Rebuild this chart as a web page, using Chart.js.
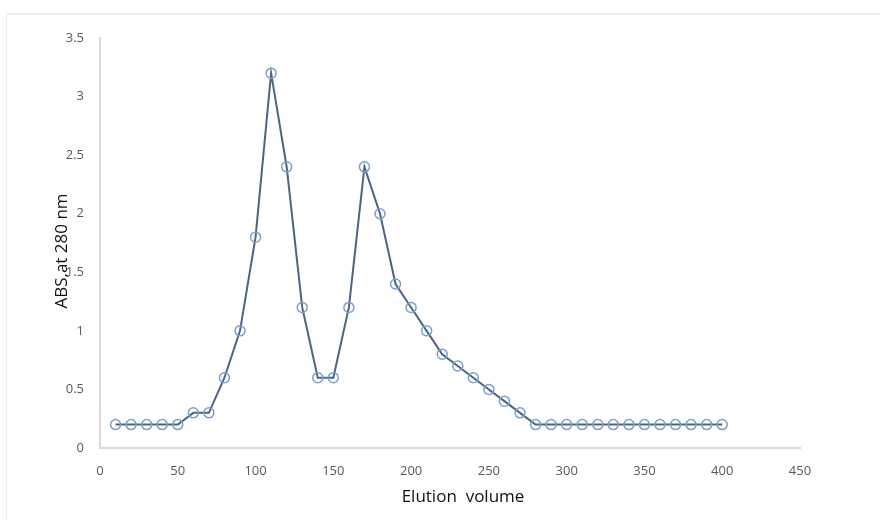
<!DOCTYPE html>
<html>
<head>
<meta charset="utf-8">
<script src="https://cdn.jsdelivr.net/npm/chart.js@4.4.0/dist/chart.umd.min.js"></script>
<style>
  html, body { margin: 0; padding: 0; background: #fff; }
  #wrap { position: relative; width: 880px; height: 520px; }
  #frame { position: absolute; left: 6px; top: 13px; width: 880px; height: 520px;
           border-left: 1px solid #ececec; border-top: 2px solid #ececec; }
  canvas { position: absolute; left: 0; top: 0; }
</style>
</head>
<body>
<div id="wrap">
  <div id="frame"></div>
  <canvas id="chart" width="880" height="520"></canvas>
</div>
<script>
// ------ Datos ------
const volumes = [10, 20, 30, 40, 50, 60, 70, 80, 90, 100,
                 110, 120, 130, 140, 150, 160, 170, 180, 190, 200,
                 210, 220, 230, 240, 250, 260, 270, 280, 290, 300,
                 310, 320, 330, 340, 350, 360, 370, 380, 390, 400];
const absorbance = [0.2, 0.2, 0.2, 0.2, 0.2, 0.3, 0.3, 0.6, 1.0, 1.8,
                    3.2, 2.4, 1.2, 0.6, 0.6, 1.2, 2.4, 2.0, 1.4, 1.2,
                    1.0, 0.8, 0.7, 0.6, 0.5, 0.4, 0.3, 0.2, 0.2, 0.2,
                    0.2, 0.2, 0.2, 0.2, 0.2, 0.2, 0.2, 0.2, 0.2, 0.2];
const xTicks = [0, 50, 100, 150, 200, 250, 300, 350, 400, 450];
const yTicks = [0, 0.5, 1, 1.5, 2, 2.5, 3, 3.5];
const xTitle = 'Elution  volume';
const yTitle = 'ABS,at 280 nm';

const points = volumes.map((v, i) => ({ x: v, y: absorbance[i] }));

const tickFont = { family: 'Open Sans', size: 13 };
const axisGray = '#d9d9d9';

// Títulos de ejes dibujados a mano para ubicarlos como en la figura
const axisTitles = {
  id: 'axisTitles',
  afterDraw(chart) {
    const c = chart.ctx;
    c.save();
    c.fillStyle = '#111';
    c.textAlign = 'center';
    c.textBaseline = 'middle';
    c.font = '17px "Open Sans"';
    c.fillText(xTitle, 463, 497);
    c.translate(62, 251);
    c.rotate(-Math.PI / 2);
    c.fillText(yTitle, 0, 0);
    c.restore();
  }
};

// ------ Chart.js ------
const ctx = document.getElementById('chart');
new Chart(ctx, {
  type: 'line',
  data: {
    datasets: [{
      label: 'ABS',
      data: points,
      borderColor: '#4a6584',
      borderWidth: 2,
      tension: 0,
      pointStyle: 'circle',
      pointRadius: 5,
      pointBorderWidth: 1.5,
      pointBorderColor: '#7f9fc8',
      pointBackgroundColor: 'rgba(255,255,255,0)'
    }]
  },
  plugins: [axisTitles],
  options: {
    responsive: false,
    animation: false,
    layout: { padding: { top: 38, right: 80, left: 0, bottom: 0 } },
    plugins: { legend: { display: false }, tooltip: { enabled: false } },
    scales: {
      x: {
        type: 'linear',
        min: 0, max: 450,
        afterBuildTicks: (s) => { s.ticks = xTicks.map(v => ({ value: v })); },
        afterFit: (s) => { s.height = 72; },
        grid: { display: false, drawTicks: false },
        border: { display: true, color: axisGray, width: 2 },
        ticks: { color: '#595959', font: tickFont, padding: 15, maxRotation: 0 }
      },
      y: {
        min: 0, max: 3.5,
        afterBuildTicks: (s) => { s.ticks = yTicks.map(v => ({ value: v })); },
        afterFit: (s) => { s.width = 100; },
        grid: { display: false, drawTicks: false },
        border: { display: true, color: axisGray, width: 2 },
        ticks: { color: '#595959', font: tickFont, padding: 16,
                 callback: (v) => String(v) }
      }
    }
  }
});
</script>
</body>
</html>
